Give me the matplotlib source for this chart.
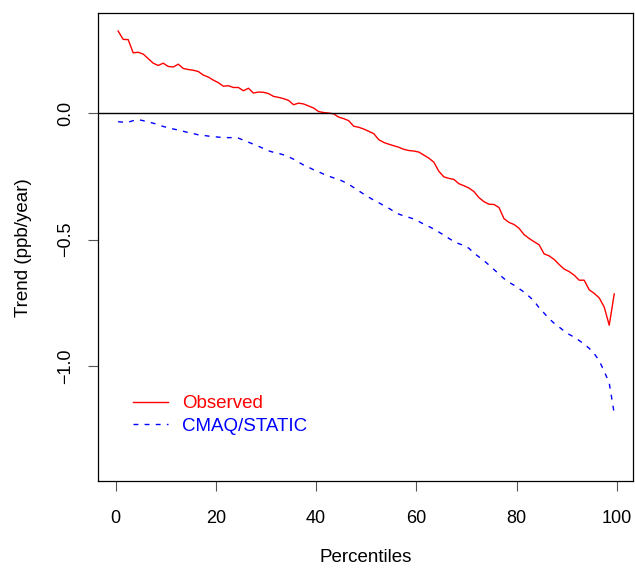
import matplotlib
matplotlib.use("Agg")
import matplotlib.pyplot as plt
import numpy as np

plt.rcParams['font.family'] = ['Liberation Sans', 'DejaVu Sans']

# Percentile bin midpoints
percentiles = np.arange(100) + 0.5

# Observed ozone trend by percentile (ppb/year)
observed = [
    0.324, 0.291, 0.290, 0.238, 0.240, 0.233, 0.215, 0.197, 0.188, 0.197,
    0.184, 0.182, 0.193, 0.176, 0.172, 0.169, 0.164, 0.150, 0.142, 0.130,
    0.120, 0.106, 0.108, 0.101, 0.101, 0.088, 0.098, 0.079, 0.083, 0.082,
    0.077, 0.066, 0.062, 0.057, 0.050, 0.033, 0.039, 0.036, 0.028, 0.020,
    0.006, 0.002, 0.000, -0.003, -0.016, -0.022, -0.030, -0.052, -0.056, -0.063,
    -0.072, -0.081, -0.105, -0.116, -0.123, -0.129, -0.135, -0.143, -0.148, -0.150,
    -0.154, -0.166, -0.178, -0.194, -0.230, -0.252, -0.258, -0.262, -0.279, -0.287,
    -0.296, -0.310, -0.334, -0.350, -0.360, -0.361, -0.373, -0.417, -0.432, -0.440,
    -0.455, -0.480, -0.495, -0.508, -0.520, -0.556, -0.564, -0.578, -0.598, -0.616,
    -0.626, -0.640, -0.660, -0.660, -0.698, -0.712, -0.730, -0.766, -0.838, -0.714,
]

# Modelled trend (CMAQ with static emissions)
cmaq_static = [
    -0.034, -0.036, -0.036, -0.030, -0.026, -0.030, -0.035, -0.040, -0.046, -0.053,
    -0.058, -0.063, -0.067, -0.072, -0.077, -0.081, -0.086, -0.088, -0.091, -0.093,
    -0.095, -0.097, -0.097, -0.097, -0.099, -0.107, -0.115, -0.123, -0.131, -0.140,
    -0.149, -0.155, -0.159, -0.165, -0.173, -0.182, -0.194, -0.205, -0.214, -0.224,
    -0.232, -0.241, -0.249, -0.256, -0.262, -0.271, -0.281, -0.294, -0.307, -0.320,
    -0.332, -0.344, -0.354, -0.365, -0.376, -0.388, -0.399, -0.406, -0.412, -0.418,
    -0.428, -0.439, -0.448, -0.458, -0.470, -0.482, -0.495, -0.507, -0.516, -0.523,
    -0.534, -0.553, -0.568, -0.583, -0.600, -0.618, -0.636, -0.654, -0.668, -0.680,
    -0.693, -0.707, -0.724, -0.742, -0.769, -0.790, -0.812, -0.830, -0.845, -0.861,
    -0.874, -0.885, -0.898, -0.913, -0.929, -0.950, -0.978, -1.020, -1.066, -1.187,
]

xticks = [0, 20, 40, 60, 80, 100]
yticks = [0.0, -0.5, -1.0]
ytick_labels = ["0.0", "\u22120.5", "\u22121.0"]

fig = plt.figure(figsize=(6.35, 5.68), dpi=100)
ax = fig.add_axes([0.1548, 0.1532, 0.9973 - 0.1548, 0.9766 - 0.1532])

ax.plot(percentiles, observed, color='red', lw=1.0, label='Observed')
ax.plot(percentiles, cmaq_static, color='blue', lw=1.0, dashes=(3.5, 4.5),
        label='CMAQ/STATIC')
ax.axhline(0.0, color='black', lw=1.0)

ax.set_xlim(-3.46, 103.3)
ax.set_ylim(-1.453, 0.394)

ax.set_xticks(xticks)
ax.set_xticklabels([str(t) for t in xticks])
ax.set_yticks(yticks)
ax.set_yticklabels(ytick_labels, rotation=90, va='center')

ax.tick_params(axis='both', direction='out', length=7.5, width=0.8,
               labelsize=13, color='#555555')
ax.tick_params(axis='x', pad=13.5)
ax.tick_params(axis='y', pad=10)
for s in ax.spines.values():
    s.set_linewidth(0.9)
    s.set_color('black')

ax.set_xlabel('Percentiles', fontsize=13.5, labelpad=16)
ax.set_ylabel('Trend (ppb/year)', fontsize=13.5, labelpad=18)

leg = ax.legend(loc='lower left', bbox_to_anchor=(0.048, 0.079), frameon=False,
                fontsize=13.5, handlelength=1.85, handletextpad=0.75,
                labelspacing=0.28, borderpad=0, labelcolor='linecolor')

fig.savefig('out.png', dpi=100)
